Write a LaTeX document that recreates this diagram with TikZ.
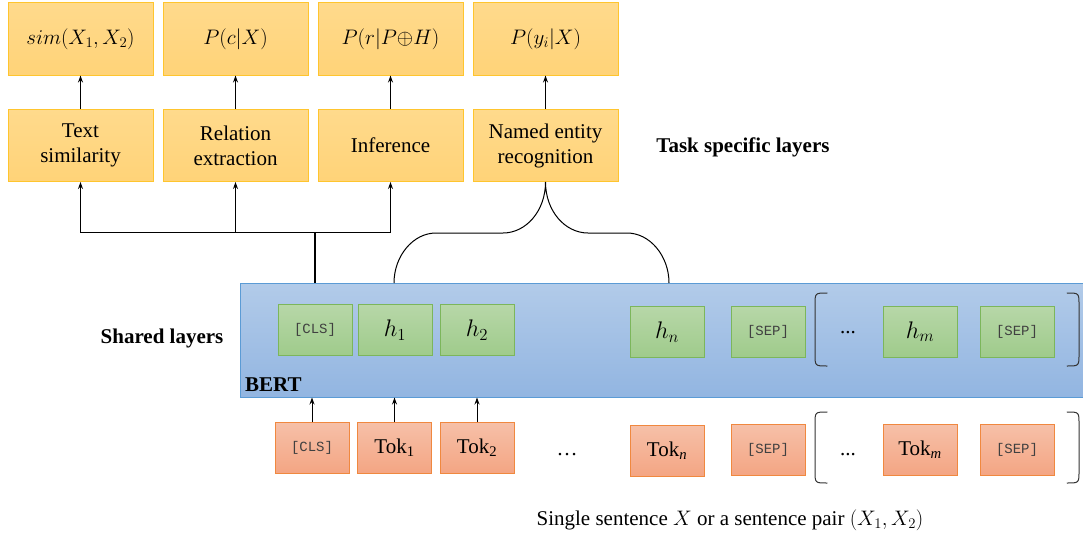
\RequirePackage{fix-cm}
\documentclass[tikz,border=0pt]{standalone}
\usepackage{fontspec}
\setmainfont{Liberation Serif}
\setmonofont{Liberation Mono}
\usepackage{tikz}
\usetikzlibrary{arrows.meta}
\definecolor{ytop}{HTML}{FFDA8C}
\definecolor{ybot}{HTML}{FFD378}
\definecolor{yline}{HTML}{FFC52E}
\definecolor{gtop}{HTML}{B7D7A8}
\definecolor{gbot}{HTML}{9FCB8B}
\definecolor{gline}{HTML}{7CB65B}
\definecolor{otop}{HTML}{F6C0A8}
\definecolor{obot}{HTML}{F4A583}
\definecolor{oline}{HTML}{F0883F}
\definecolor{btop}{HTML}{B2CBE9}
\definecolor{bbot}{HTML}{92B5E1}
\definecolor{bline}{HTML}{5B9BD5}
\definecolor{tokgray}{HTML}{404040}
\tikzset{
  ybox/.style={draw=yline, line width=1pt, top color=ytop, bottom color=ybot, minimum width=145pt, minimum height=72pt, inner sep=0pt, align=center, font=\fontsize{21}{25}\selectfont},
  gbox/.style={draw=gline, line width=1pt, top color=gtop, bottom color=gbot, minimum width=74pt, minimum height=51pt, inner sep=0pt, font=\fontsize{24}{28}\selectfont},
  obox/.style={draw=oline, line width=1pt, top color=otop, bottom color=obot, minimum width=74pt, minimum height=51pt, inner sep=0pt, font=\fontsize{21}{25}\selectfont},
  bertbox/.style={draw=bline, line width=1pt, top color=btop, bottom color=bbot, inner sep=0pt},
  tt/.style={font=\ttfamily\fontsize{14}{16}\selectfont, text=tokgray},
  arr/.style={draw=black, line width=1pt, -{Stealth[length=7pt,width=5pt]}},
  conn/.style={draw=black, line width=1pt},
  paren/.style={draw=black!80, line width=1pt, line cap=round},
  lab/.style={font=\fontsize{21}{25}\selectfont},
  labb/.style={font=\bfseries\fontsize{21}{25}\selectfont},
}
\begin{document}
\begin{tikzpicture}[x=1pt,y=-1pt]
  \useasboundingbox (0,0) rectangle (1083,535);
  % task specific layers
  \node[ybox] (out1) at (80.5,39) {$sim(X_1,X_2)$};
  \node[ybox] (out2) at (235.5,39) {$P(c|X)$};
  \node[ybox] (out3) at (390.5,39) {$P(r|P{\oplus}H)$};
  \node[ybox] (out4) at (545.5,39) {$P(y_i|X)$};
  \node[ybox] (task1) at (80.5,145.5) {Text\\similarity};
  \node[ybox] (task2) at (235.5,145.5) {Relation\\extraction};
  \node[ybox] (task3) at (390.5,145.5) {Inference};
  \node[ybox] (task4) at (545.5,145.5) {Named entity\\recognition};
  \foreach \i in {1,...,4}
    \draw[arr] (task\i.north) -- (out\i.south);
  \node[labb] (tasklab) at (743,147) {Task specific layers};

  % shared layers
  \node[bertbox, minimum width=843pt, minimum height=114pt] (bert) at (661.5,340) {};
  \node[labb, anchor=base west, inner sep=0pt] (bertlab) at (245,391) {BERT};
  \node[labb] (sharedlab) at (162,338) {Shared layers};
  \node[gbox,tt] (hcls) at (315,330) {[CLS]};
  \node[gbox] (h1) at (395,330) {$h_1$};
  \node[gbox] (h2) at (477,330) {$h_2$};
  \node[gbox] (hn) at (667,332) {$h_n$};
  \node[gbox,tt] (hsep1) at (768,331.5) {[SEP]};
  \node[lab] (hdots) at (848,333) {...};
  \node[gbox] (hm) at (920,331.5) {$h_m$};
  \node[gbox,tt] (hsep2) at (1017,331.5) {[SEP]};
  \draw[paren] (827,293) .. controls (815,293) .. (815,305) -- (815,354) .. controls (815,366) .. (827,366);
  \draw[paren] (1067,293) .. controls (1079,293) .. (1079,305) -- (1079,354) .. controls (1079,366) .. (1067,366);

  % input tokens
  \node[obox,tt] (tcls) at (312,448) {[CLS]};
  \node[obox] (tok1) at (394.5,448) {Tok\textsubscript{1}};
  \node[obox] (tok2) at (477,448) {Tok\textsubscript{2}};
  \node[lab] (tdots) at (567,455) {\dots};
  \node[obox] (tokn) at (667,451) {Tok\textsubscript{\textit{n}}};
  \node[obox,tt] (tsep1) at (768,450) {[SEP]};
  \node[lab] (tdots2) at (848,455) {...};
  \node[obox] (tokm) at (920,450) {Tok\textsubscript{\textit{m}}};
  \node[obox,tt] (tsep2) at (1017,450) {[SEP]};
  \draw[paren] (827,412) .. controls (815,412) .. (815,424) -- (815,471) .. controls (815,483) .. (827,483);
  \draw[paren] (1067,412) .. controls (1079,412) .. (1079,424) -- (1079,471) .. controls (1079,483) .. (1067,483);
  \foreach \t in {tcls,tok1,tok2}
    \draw[arr] (\t.north) -- (\t.north |- bert.south);
  \node[lab] (inlab) at (730,520) {Single sentence $X$ or a sentence pair $(X_1,X_2)$};

  % connectors to the heads
  \coordinate (join) at (315,232);
  \draw[conn, line width=1.6pt] (bert.north -| join) -- (join);
  \draw[arr] (join) -| (task1.south);
  \draw[arr] (join) -| (task3.south);
  \draw[arr] (task2.south |- join) -- (task2.south);
  \coordinate (bl) at (394,283);
  \coordinate (br) at (669,283);
  \draw[conn] (bl) .. controls (394,256) and (413,233) .. (436,233) -- (503,233)
    .. controls (526,233) and (545.5,211) .. (task4.south)
    .. controls (545.5,211) and (565,233) .. (588,233) -- (627,233)
    .. controls (650,233) and (669,256) .. (br);
\end{tikzpicture}
\end{document}
